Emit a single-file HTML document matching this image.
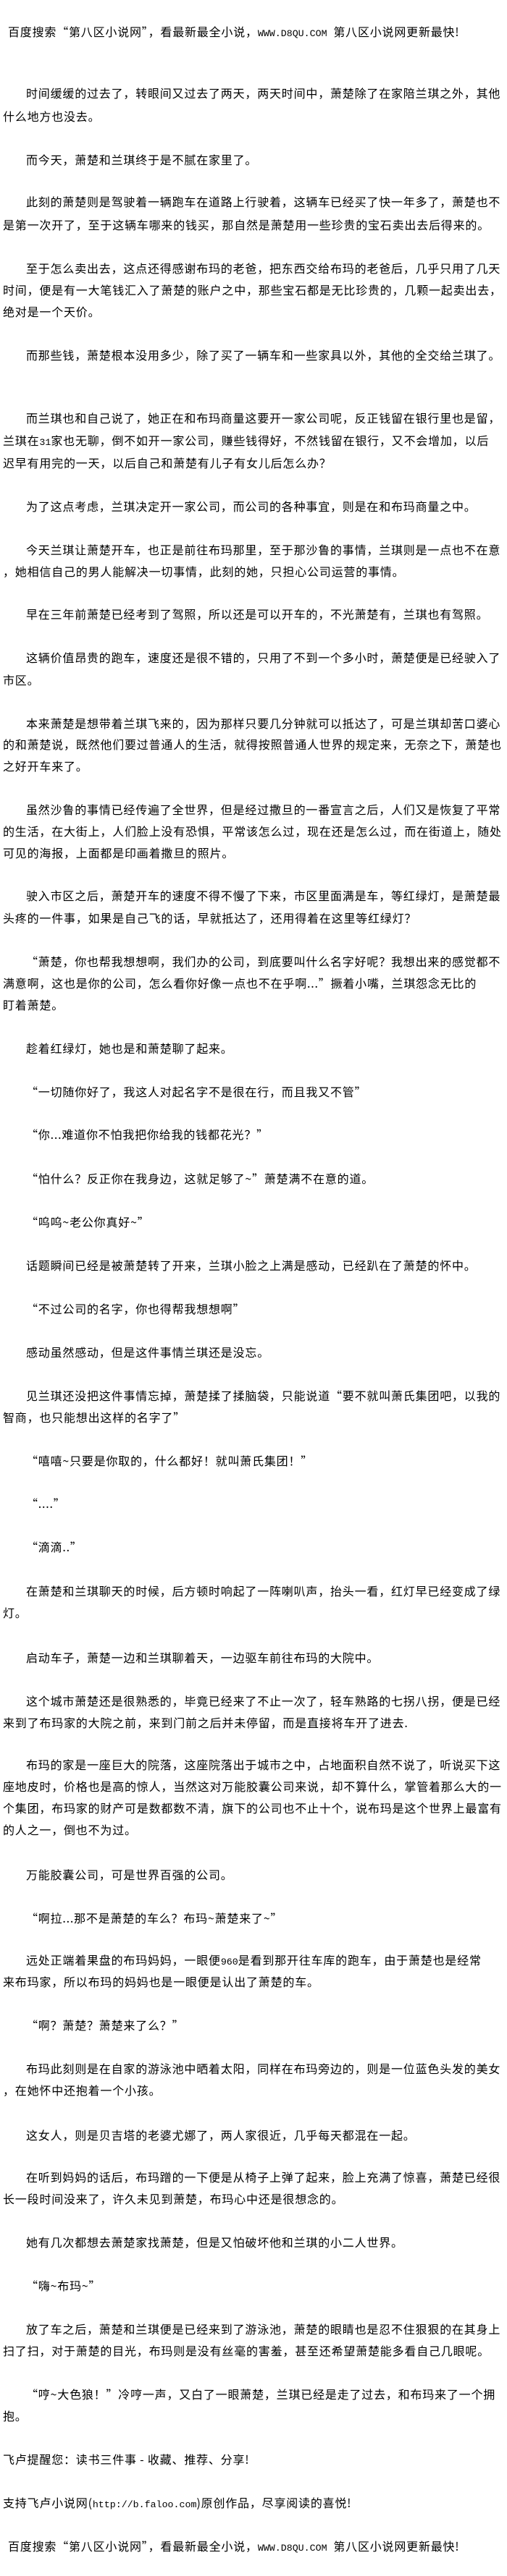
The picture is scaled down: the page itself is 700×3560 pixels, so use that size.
<!DOCTYPE html>
<html lang="zh-CN">
<head>
<meta charset="utf-8">
<style>
html,body{margin:0;padding:0;background:#fff;}
body{width:700px;height:3560px;position:relative;overflow:hidden;}
.l{position:absolute;white-space:nowrap;font-family:"Noto Sans CJK SC","WenQuanYi Zen Hei",sans-serif;font-size:16px;line-height:20px;height:20px;letter-spacing:0.8px;color:#000;}
.m{font-family:"Liberation Mono",monospace;font-size:13.3px;letter-spacing:0;}
</style>
</head>
<body>
<div class="l" style="top:33px;left:11px">百度搜索“第八区小说网”，看最新最全小说，<span class="m">WWW.D8QU.COM</span>&nbsp;&nbsp;第八区小说网更新最快!</div>
<div class="l" style="top:118px;left:36px">时间缓缓的过去了，转眼间又过去了两天，两天时间中，萧楚除了在家陪兰琪之外，其他</div>
<div class="l" style="top:150px;left:4px">什么地方也没去。</div>
<div class="l" style="top:210px;left:36px">而今天，萧楚和兰琪终于是不腻在家里了。</div>
<div class="l" style="top:268px;left:36px">此刻的萧楚则是驾驶着一辆跑车在道路上行驶着，这辆车已经买了快一年多了，萧楚也不</div>
<div class="l" style="top:300px;left:4px">是第一次开了，至于这辆车哪来的钱买，那自然是萧楚用一些珍贵的宝石卖出去后得来的。</div>
<div class="l" style="top:360px;left:36px">至于怎么卖出去，这点还得感谢布玛的老爸，把东西交给布玛的老爸后，几乎只用了几天</div>
<div class="l" style="top:390px;left:4px">时间，便是有一大笔钱汇入了萧楚的账户之中，那些宝石都是无比珍贵的，几颗一起卖出去，</div>
<div class="l" style="top:420px;left:4px">绝对是一个天价。</div>
<div class="l" style="top:480px;left:36px">而那些钱，萧楚根本没用多少，除了买了一辆车和一些家具以外，其他的全交给兰琪了。</div>
<div class="l" style="top:567px;left:36px">而兰琪也和自己说了，她正在和布玛商量这要开一家公司呢，反正钱留在银行里也是留，</div>
<div class="l" style="top:598px;left:4px">兰琪在<span class="m">31</span>家也无聊，倒不如开一家公司，赚些钱得好，不然钱留在银行，又不会增加，以后</div>
<div class="l" style="top:629px;left:4px">迟早有用完的一天，以后自己和萧楚有儿子有女儿后怎么办？</div>
<div class="l" style="top:689px;left:36px">为了这点考虑，兰琪决定开一家公司，而公司的各种事宜，则是在和布玛商量之中。</div>
<div class="l" style="top:749px;left:36px">今天兰琪让萧楚开车，也正是前往布玛那里，至于那沙鲁的事情，兰琪则是一点也不在意</div>
<div class="l" style="top:779px;left:4px">，她相信自己的男人能解决一切事情，此刻的她，只担心公司运营的事情。</div>
<div class="l" style="top:838px;left:36px">早在三年前萧楚已经考到了驾照，所以还是可以开车的，不光萧楚有，兰琪也有驾照。</div>
<div class="l" style="top:898px;left:36px">这辆价值昂贵的跑车，速度还是很不错的，只用了不到一个多小时，萧楚便是已经驶入了</div>
<div class="l" style="top:929px;left:4px">市区。</div>
<div class="l" style="top:989px;left:36px">本来萧楚是想带着兰琪飞来的，因为那样只要几分钟就可以抵达了，可是兰琪却苦口婆心</div>
<div class="l" style="top:1018px;left:4px">的和萧楚说，既然他们要过普通人的生活，就得按照普通人世界的规定来，无奈之下，萧楚也</div>
<div class="l" style="top:1048px;left:4px">之好开车来了。</div>
<div class="l" style="top:1108px;left:36px">虽然沙鲁的事情已经传遍了全世界，但是经过撒旦的一番宣言之后，人们又是恢复了平常</div>
<div class="l" style="top:1138px;left:4px">的生活，在大街上，人们脸上没有恐惧，平常该怎么过，现在还是怎么过，而在街道上，随处</div>
<div class="l" style="top:1168px;left:4px">可见的海报，上面都是印画着撒旦的照片。</div>
<div class="l" style="top:1227px;left:36px">驶入市区之后，萧楚开车的速度不得不慢了下来，市区里面满是车，等红绿灯，是萧楚最</div>
<div class="l" style="top:1258px;left:4px">头疼的一件事，如果是自己飞的话，早就抵达了，还用得着在这里等红绿灯？</div>
<div class="l" style="top:1318px;left:36px">“萧楚，你也帮我想想啊，我们办的公司，到底要叫什么名字好呢？我想出来的感觉都不</div>
<div class="l" style="top:1348px;left:4px">满意啊，这也是你的公司，怎么看你好像一点也不在乎啊...”撅着小嘴，兰琪怨念无比的</div>
<div class="l" style="top:1378px;left:4px">盯着萧楚。</div>
<div class="l" style="top:1438px;left:36px">趁着红绿灯，她也是和萧楚聊了起来。</div>
<div class="l" style="top:1498px;left:36px">“一切随你好了，我这人对起名字不是很在行，而且我又不管”</div>
<div class="l" style="top:1557px;left:36px">“你...难道你不怕我把你给我的钱都花光？”</div>
<div class="l" style="top:1618px;left:36px">“怕什么？反正你在我身边，这就足够了~”萧楚满不在意的道。</div>
<div class="l" style="top:1678px;left:36px">“呜呜~老公你真好~”</div>
<div class="l" style="top:1738px;left:36px">话题瞬间已经是被萧楚转了开来，兰琪小脸之上满是感动，已经趴在了萧楚的怀中。</div>
<div class="l" style="top:1798px;left:36px">“不过公司的名字，你也得帮我想想啊”</div>
<div class="l" style="top:1858px;left:36px">感动虽然感动，但是这件事情兰琪还是没忘。</div>
<div class="l" style="top:1918px;left:36px">见兰琪还没把这件事情忘掉，萧楚揉了揉脑袋，只能说道“要不就叫萧氏集团吧，以我的</div>
<div class="l" style="top:1948px;left:4px">智商，也只能想出这样的名字了”</div>
<div class="l" style="top:2008px;left:36px">“嘻嘻~只要是你取的，什么都好！就叫萧氏集团！”</div>
<div class="l" style="top:2067px;left:36px">“....”</div>
<div class="l" style="top:2127px;left:36px">“滴滴..”</div>
<div class="l" style="top:2188px;left:36px">在萧楚和兰琪聊天的时候，后方顿时响起了一阵喇叭声，抬头一看，红灯早已经变成了绿</div>
<div class="l" style="top:2218px;left:4px">灯。</div>
<div class="l" style="top:2280px;left:36px">启动车子，萧楚一边和兰琪聊着天，一边驱车前往布玛的大院中。</div>
<div class="l" style="top:2340px;left:36px">这个城市萧楚还是很熟悉的，毕竟已经来了不止一次了，轻车熟路的七拐八拐，便是已经</div>
<div class="l" style="top:2370px;left:4px">来到了布玛家的大院之前，来到门前之后并未停留，而是直接将车开了进去.</div>
<div class="l" style="top:2428px;left:36px">布玛的家是一座巨大的院落，这座院落出于城市之中，占地面积自然不说了，听说买下这</div>
<div class="l" style="top:2458px;left:4px">座地皮时，价格也是高的惊人，当然这对万能胶囊公司来说，却不算什么，掌管着那么大的一</div>
<div class="l" style="top:2488px;left:4px">个集团，布玛家的财产可是数都数不清，旗下的公司也不止十个，说布玛是这个世界上最富有</div>
<div class="l" style="top:2518px;left:4px">的人之一，倒也不为过。</div>
<div class="l" style="top:2580px;left:36px">万能胶囊公司，可是世界百强的公司。</div>
<div class="l" style="top:2640px;left:36px">“啊拉...那不是萧楚的车么？布玛~萧楚来了~”</div>
<div class="l" style="top:2698px;left:36px">远处正端着果盘的布玛妈妈，一眼便<span class="m">960</span>是看到那开往车库的跑车，由于萧楚也是经常</div>
<div class="l" style="top:2728px;left:4px">来布玛家，所以布玛的妈妈也是一眼便是认出了萧楚的车。</div>
<div class="l" style="top:2788px;left:36px">“啊？萧楚？萧楚来了么？”</div>
<div class="l" style="top:2848px;left:36px">布玛此刻则是在自家的游泳池中晒着太阳，同样在布玛旁边的，则是一位蓝色头发的美女</div>
<div class="l" style="top:2878px;left:4px">，在她怀中还抱着一个小孩。</div>
<div class="l" style="top:2940px;left:36px">这女人，则是贝吉塔的老婆尤娜了，两人家很近，几乎每天都混在一起。</div>
<div class="l" style="top:2998px;left:36px">在听到妈妈的话后，布玛蹭的一下便是从椅子上弹了起来，脸上充满了惊喜，萧楚已经很</div>
<div class="l" style="top:3028px;left:4px">长一段时间没来了，许久未见到萧楚，布玛心中还是很想念的。</div>
<div class="l" style="top:3088px;left:36px">她有几次都想去萧楚家找萧楚，但是又怕破坏他和兰琪的小二人世界。</div>
<div class="l" style="top:3148px;left:36px">“嗨~布玛~”</div>
<div class="l" style="top:3208px;left:36px">放了车之后，萧楚和兰琪便是已经来到了游泳池，萧楚的眼睛也是忍不住狠狠的在其身上</div>
<div class="l" style="top:3238px;left:4px">扫了扫，对于萧楚的目光，布玛则是没有丝毫的害羞，甚至还希望萧楚能多看自己几眼呢。</div>
<div class="l" style="top:3298px;left:36px">“哼~大色狼！”冷哼一声，又白了一眼萧楚，兰琪已经是走了过去，和布玛来了一个拥</div>
<div class="l" style="top:3328px;left:4px">抱。</div>
<div class="l" style="top:3388px;left:4px">飞卢提醒您：读书三件事 - 收藏、推荐、分享!</div>
<div class="l" style="top:3448px;left:4px">支持飞卢小说网(<span class="m">http://b.faloo.com</span>)原创作品，尽享阅读的喜悦!</div>
<div class="l" style="top:3508px;left:11px">百度搜索“第八区小说网”，看最新最全小说，<span class="m">WWW.D8QU.COM</span>&nbsp;&nbsp;第八区小说网更新最快!</div>
</body>
</html>
